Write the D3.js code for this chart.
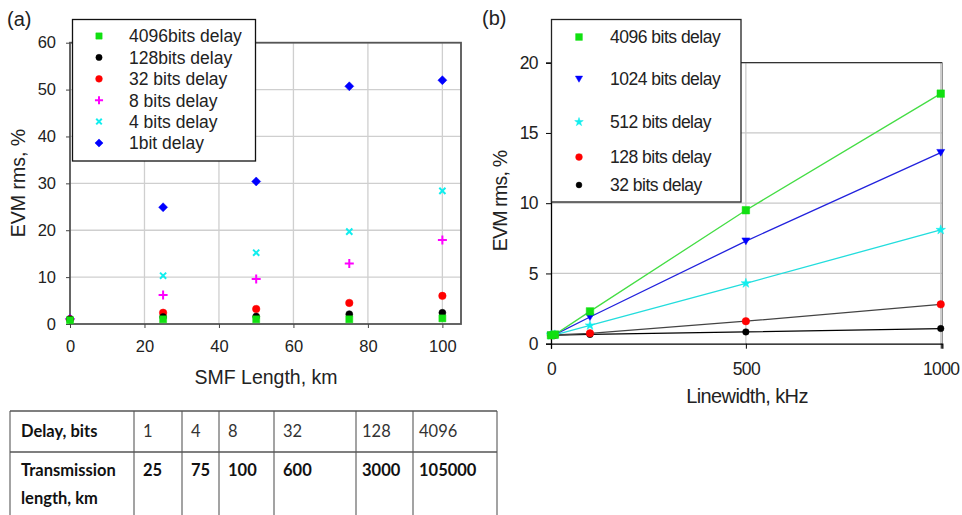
<!DOCTYPE html>
<html>
<head>
<meta charset="utf-8">
<script src="https://cdn.jsdelivr.net/npm/d3@7"></script>
<style>
  body { margin: 0; background: #fff; }
  svg { display: block; }
</style>
</head>
<body>
<svg id="fig" width="962" height="515"></svg>
<script>
// Panel (a): EVM vs SMF length
var lengthKm = [0, 25, 50, 75, 100];
var evm4096 = [0.8, 1.0, 1.0, 1.0, 1.2];
var evm128 = [1.0, 1.5, 1.6, 2.1, 2.4];
var evm32 = [1.0, 2.4, 3.2, 4.5, 6.0];
var evm8 = [1.0, 6.2, 9.6, 12.9, 17.9];
var evm4 = [1.0, 10.3, 15.2, 19.7, 28.4];
var evm1 = [1.1, 24.9, 30.4, 50.7, 52.0];
var xTicksA = [0, 20, 40, 60, 80, 100];
var yTicksA = [0, 10, 20, 30, 40, 50, 60];

// Panel (b): EVM vs linewidth
var linewidthKHz = [0, 10, 100, 500, 1000];
var lw4096 = [0.6, 0.65, 2.3, 9.5, 17.8];
var lw1024 = [0.6, 0.65, 1.9, 7.3, 13.6];
var lw512 = [0.6, 0.63, 1.3, 4.3, 8.1];
var lw128 = [0.6, 0.62, 0.74, 1.6, 2.8];
var lw32 = [0.6, 0.61, 0.66, 0.84, 1.08];
var xTicksB = [0, 500, 1000];
var yTicksB = [0, 5, 10, 15, 20];

// Table
var delayBits = ["1", "4", "8", "32", "128", "4096"];
var transKm = ["25", "75", "100", "600", "3000", "105000"];

var svg = d3.select("#fig");
var font = "'Liberation Sans', Arial, sans-serif";

// marker shapes
function markerPath(kind, s) {
  if (kind === "square") return d3.symbol(d3.symbolSquare, s * s)();
  if (kind === "circle") return d3.symbol(d3.symbolCircle, Math.PI * s * s / 4)();
  if (kind === "diamond") { var h = s / 2; return "M0," + (-h) + "L" + h + ",0L0," + h + "L" + (-h) + ",0Z"; }
  if (kind === "plus") { var p = s / 2; return "M" + (-p) + ",0H" + p + "M0," + (-p) + "V" + p; }
  if (kind === "times") { var t = s / 2.6; return "M" + (-t) + "," + (-t) + "L" + t + "," + t + "M" + (-t) + "," + t + "L" + t + "," + (-t); }
  if (kind === "star") return d3.symbol(d3.symbolStar, s * s * 0.35)();
  if (kind === "tridown") { var r = s / 2; return "M" + (-r) + "," + (-r * 0.8) + "L" + r + "," + (-r * 0.8) + "L0," + (r * 0.9) + "Z"; }
}
function drawMarker(g, kind, color, s) {
  var stroked = (kind === "plus" || kind === "times");
  return g.append("path")
    .attr("d", markerPath(kind, s))
    .attr("fill", stroked ? "none" : color)
    .attr("stroke", color)
    .attr("stroke-width", stroked ? 2 : 0.5);
}

// ---------- panel (a) ----------
var xA = d3.scaleLinear().domain([0, 105]).range([70, 461]);
var yA = d3.scaleLinear().domain([0, 60]).range([324, 42.7]);

var gA = svg.append("g");
gA.selectAll(".gx").data(xTicksA.slice(1)).enter().append("line")
  .attr("x1", function(d) { return xA(d); }).attr("x2", function(d) { return xA(d); })
  .attr("y1", yA(0)).attr("y2", yA(60))
  .attr("stroke", "#cfcfcf").attr("stroke-width", 1.3);
gA.selectAll(".gy").data(yTicksA.slice(1)).enter().append("line")
  .attr("x1", xA(0)).attr("x2", xA(105))
  .attr("y1", function(d) { return yA(d); }).attr("y2", function(d) { return yA(d); })
  .attr("stroke", "#cfcfcf").attr("stroke-width", 1.3);
gA.append("rect")
  .attr("x", xA(0)).attr("y", yA(60))
  .attr("width", xA(105) - xA(0)).attr("height", yA(0) - yA(60))
  .attr("fill", "none").attr("stroke", "#555").attr("stroke-width", 1.8);

var axA_x = gA.append("g").attr("transform", "translate(0," + yA(0) + ")")
  .call(d3.axisBottom(xA).tickValues(xTicksA).tickSize(4).tickPadding(12));
var axA_y = gA.append("g").attr("transform", "translate(" + xA(0) + ",0)")
  .call(d3.axisLeft(yA).tickValues(yTicksA).tickSize(4).tickPadding(10));
[axA_x, axA_y].forEach(function(ax) {
  ax.select(".domain").remove();
  ax.selectAll("line").attr("stroke", "#444");
  ax.selectAll("text").attr("font-family", font).attr("font-size", "16.5px").attr("fill", "#222");
});

var seriesA = [
  { name: "4096bits delay", vals: evm4096, color: "#11e011", kind: "square", s: 7 },
  { name: "128bits delay", vals: evm128, color: "#000", kind: "circle", s: 7 },
  { name: "32 bits delay", vals: evm32, color: "#ff0000", kind: "circle", s: 7.5 },
  { name: "8 bits delay", vals: evm8, color: "#ff00ff", kind: "plus", s: 9 },
  { name: "4 bits delay", vals: evm4, color: "#11eeee", kind: "times", s: 8 },
  { name: "1bit delay", vals: evm1, color: "#0000ff", kind: "diamond", s: 9 }
];
seriesA.slice().reverse().forEach(function(sr) {
  sr.vals.forEach(function(v, i) {
    drawMarker(gA, sr.kind, sr.color, sr.s)
      .attr("transform", "translate(" + xA(lengthKm[i]) + "," + yA(v) + ")");
  });
});

// legend (a)
gA.append("rect").attr("x", 72.5).attr("y", 19.5).attr("width", 183).attr("height", 141.5)
  .attr("fill", "#fff").attr("stroke", "#111").attr("stroke-width", 1.3);
seriesA.forEach(function(sr, i) {
  var ly = 36 + i * 21.4;
  drawMarker(gA, sr.kind, sr.color, sr.s * 0.9).attr("transform", "translate(99," + ly + ")");
  gA.append("text").attr("x", 129).attr("y", ly).attr("dy", "0.36em")
    .attr("font-family", font).attr("font-size", "17.5px").attr("fill", "#222").text(sr.name);
});

gA.append("text").attr("x", 7).attr("y", 26).attr("font-family", font)
  .attr("font-size", "20px").attr("fill", "#222").text("(a)");
gA.append("text").attr("x", 266).attr("y", 383.5).attr("text-anchor", "middle")
  .attr("font-family", font).attr("font-size", "19.5px").attr("fill", "#222").text("SMF Length, km");
gA.append("text").attr("transform", "translate(24.5,183) rotate(-90)").attr("text-anchor", "middle")
  .attr("font-family", font).attr("font-size", "19.5px").attr("fill", "#222").text("EVM rms, %");

// ---------- panel (b) ----------
var xB = d3.scaleLinear().domain([0, 1004]).range([551, 942.3]);
var yB = d3.scaleLinear().domain([0, 20]).range([343.7, 62.7]);
var gB = svg.append("g");

gB.selectAll(".gx").data(xTicksB.slice(1)).enter().append("line")
  .attr("x1", function(d) { return xB(d); }).attr("x2", function(d) { return xB(d); })
  .attr("y1", yB(0)).attr("y2", yB(20))
  .attr("stroke", "#c8c8c8").attr("stroke-width", 1.2);
gB.selectAll(".gy").data(yTicksB.slice(1)).enter().append("line")
  .attr("x1", xB(0)).attr("x2", xB(1004))
  .attr("y1", function(d) { return yB(d); }).attr("y2", function(d) { return yB(d); })
  .attr("stroke", "#c8c8c8").attr("stroke-width", 1.2);
gB.append("line").attr("x1", xB(0)).attr("x2", xB(1004)).attr("y1", yB(20)).attr("y2", yB(20))
  .attr("stroke", "#333").attr("stroke-width", 1.2);
gB.append("line").attr("x1", xB(1004)).attr("x2", xB(1004)).attr("y1", yB(20)).attr("y2", yB(0))
  .attr("stroke", "#888").attr("stroke-width", 1.2);

var axB_x = gB.append("g").attr("transform", "translate(0," + yB(0) + ")")
  .call(d3.axisBottom(xB).tickValues(xTicksB).tickFormat(d3.format("d")).tickSize(5).tickPadding(14));
var axB_y = gB.append("g").attr("transform", "translate(" + xB(0) + ",0)")
  .call(d3.axisLeft(yB).tickValues(yTicksB).tickSize(5).tickPadding(8));
[axB_x, axB_y].forEach(function(ax) {
  ax.select(".domain").attr("stroke", "#000").attr("stroke-width", 1.3);
  ax.selectAll("line").attr("stroke", "#000");
  ax.selectAll("text").attr("font-family", font).attr("font-size", "17.5px")
    .attr("letter-spacing", "-0.6px").attr("fill", "#222");
});

var seriesB = [
  { name: "4096 bits delay", vals: lw4096, color: "#11e011", line: "#44dd44", kind: "square", s: 7.5 },
  { name: "1024 bits delay", vals: lw1024, color: "#0000ff", line: "#2222dd", kind: "tridown", s: 8 },
  { name: "512 bits delay", vals: lw512, color: "#11eeee", line: "#22dddd", kind: "star", s: 9 },
  { name: "128 bits delay", vals: lw128, color: "#ff0000", line: "#444", kind: "circle", s: 7.5 },
  { name: "32 bits delay", vals: lw32, color: "#000", line: "#000", kind: "circle", s: 6.5 }
];
var lineB = d3.line()
  .x(function(d, i) { return xB(linewidthKHz[i]); })
  .y(function(d) { return yB(d); });
seriesB.slice().reverse().forEach(function(sr) {
  gB.append("path").datum(sr.vals).attr("d", lineB)
    .attr("fill", "none").attr("stroke", sr.line).attr("stroke-width", 1.3);
});
seriesB.slice().reverse().forEach(function(sr) {
  sr.vals.forEach(function(v, i) {
    drawMarker(gB, sr.kind, sr.color, sr.s)
      .attr("transform", "translate(" + xB(linewidthKHz[i]) + "," + yB(v) + ")");
  });
});

// legend (b)
var legYB = [37, 79, 122, 157, 185];
gB.append("rect").attr("x", 551.5).attr("y", 19.5).attr("width", 189.5).attr("height", 182.5)
  .attr("fill", "#fff").attr("stroke", "#222").attr("stroke-width", 1.3);
seriesB.forEach(function(sr, i) {
  drawMarker(gB, sr.kind, sr.color, sr.s * 0.9).attr("transform", "translate(579," + legYB[i] + ")");
  gB.append("text").attr("x", 610).attr("y", legYB[i]).attr("dy", "0.36em")
    .attr("font-family", font).attr("font-size", "17.5px").attr("letter-spacing", "-0.5px")
    .attr("fill", "#222").text(sr.name);
});

gB.append("text").attr("x", 482).attr("y", 25).attr("font-family", font)
  .attr("font-size", "20px").attr("fill", "#222").text("(b)");
gB.append("text").attr("x", 747).attr("y", 403).attr("text-anchor", "middle")
  .attr("font-family", font).attr("font-size", "20px").attr("letter-spacing", "-0.6px")
  .attr("fill", "#222").text("Linewidth, kHz");
gB.append("text").attr("transform", "translate(506.5,201) rotate(-90)").attr("text-anchor", "middle")
  .attr("font-family", font).attr("font-size", "19.5px").attr("letter-spacing", "-0.8px")
  .attr("fill", "#222").text("EVM rms, %");

// ---------- table ----------
var colEdges = [10, 134, 182, 219, 274, 356, 413, 497];
var gT = svg.append("g");
var tfont = "Lato, 'Open Sans', sans-serif";
colEdges.forEach(function(x) {
  gT.append("line").attr("x1", x).attr("x2", x).attr("y1", 411).attr("y2", 515)
    .attr("stroke", "#666").attr("stroke-width", 1.2);
});
[411, 452].forEach(function(y) {
  gT.append("line").attr("x1", colEdges[0]).attr("x2", colEdges[colEdges.length - 1])
    .attr("y1", y).attr("y2", y).attr("stroke", "#555").attr("stroke-width", 1.3);
});
gT.append("text").attr("x", 21).attr("y", 437).attr("font-family", tfont)
  .attr("font-size", "16.5px").attr("font-weight", "bold").attr("fill", "#111").text("Delay, bits");
gT.append("text").attr("x", 21).attr("y", 476).attr("font-family", tfont)
  .attr("font-size", "16.5px").attr("font-weight", "bold").attr("fill", "#111").text("Transmission");
gT.append("text").attr("x", 21).attr("y", 504).attr("font-family", tfont)
  .attr("font-size", "16.5px").attr("font-weight", "bold").attr("fill", "#111").text("length, km");
delayBits.forEach(function(d, i) {
  var pad = i < 4 ? 9 : 6;
  gT.append("text").attr("x", colEdges[i + 1] + pad).attr("y", 437).attr("font-family", tfont)
    .attr("font-size", "16.5px").attr("fill", "#333").text(d);
  gT.append("text").attr("x", colEdges[i + 1] + pad).attr("y", 476).attr("font-family", tfont)
    .attr("font-size", "16.5px").attr("font-weight", "bold").attr("fill", "#111").text(transKm[i]);
});
</script>
</body>
</html>
